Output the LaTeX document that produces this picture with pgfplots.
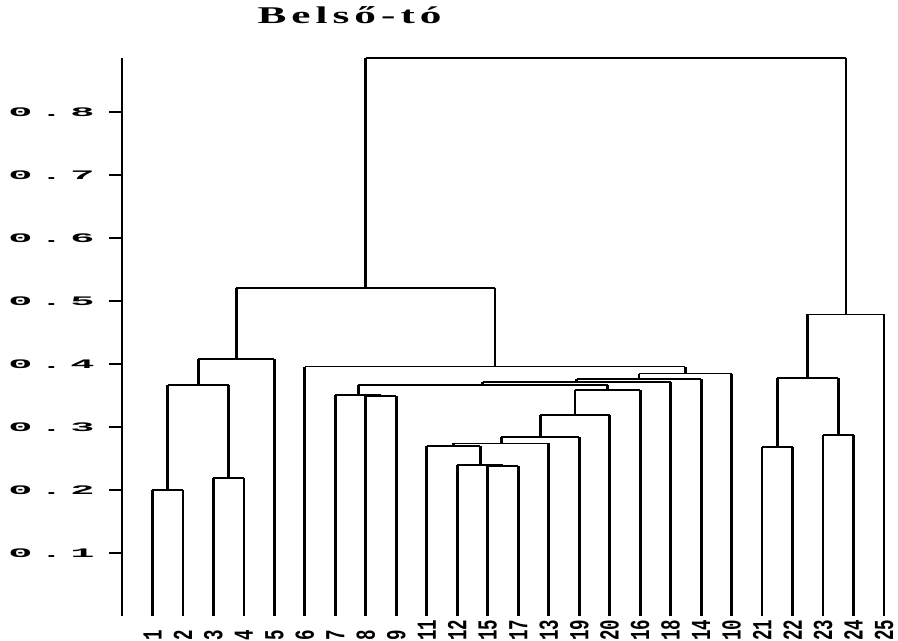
\documentclass[border=0pt]{standalone}
\usepackage{fontspec}
\setmainfont{Liberation Serif}
\setmonofont{Liberation Mono}
\usepackage{graphicx}
\usepackage{pgfplots}
\pgfplotsset{compat=1.18}

% the original is stretched about twice as wide as it is tall
\newcommand\ylab[1]{\scalebox{3.1}[1]{\fontsize{6.5}{6.5}\selectfont\bfseries\ttfamily 0\kern1.1pt.\kern1.1pt#1}}
\newcommand\leaf[1]{\scalebox{1}[1.57]{\fontsize{8.75}{8.75}\selectfont\bfseries\ttfamily #1}}
\newcommand\ks{\kern1.4pt}

% vertical segments of the dendrogram (nan rows break the line)
\pgfplotstableread{
x y
1 0
1 0.200
nan nan
2 0
2 0.200
nan nan
3 0
3 0.219
nan nan
4 0
4 0.219
nan nan
1.5 0.200
1.5 0.367
nan nan
3.5 0.219
3.5 0.367
nan nan
2.5 0.367
2.5 0.408
nan nan
5 0
5 0.408
nan nan
8 0
8 0.349
nan nan
9 0
9 0.349
nan nan
7 0
7 0.351
nan nan
8.5 0.349
8.5 0.351
nan nan
12 0
12 0.238
nan nan
13 0
13 0.238
nan nan
11 0
11 0.240
nan nan
12.5 0.238
12.5 0.240
nan nan
10 0
10 0.270
nan nan
11.75 0.240
11.75 0.270
nan nan
10.875 0.270
10.875 0.274
nan nan
14 0
14 0.274
nan nan
12.4375 0.274
12.4375 0.284
nan nan
15 0
15 0.284
nan nan
13.7188 0.284
13.7188 0.319
nan nan
16 0
16 0.319
nan nan
14.8594 0.319
14.8594 0.359
nan nan
17 0
17 0.359
nan nan
7.75 0.351
7.75 0.367
nan nan
15.9297 0.359
15.9297 0.367
nan nan
11.8398 0.367
11.8398 0.372
nan nan
18 0
18 0.372
nan nan
14.9199 0.372
14.9199 0.376
nan nan
19 0
19 0.376
nan nan
16.96 0.376
16.96 0.385
nan nan
20 0
20 0.385
nan nan
6 0
6 0.396
nan nan
18.48 0.385
18.48 0.396
nan nan
3.75 0.408
3.75 0.521
nan nan
12.24 0.396
12.24 0.521
nan nan
21 0
21 0.268
nan nan
22 0
22 0.268
nan nan
23 0
23 0.287
nan nan
24 0
24 0.287
nan nan
21.5 0.268
21.5 0.378
nan nan
23.5 0.287
23.5 0.378
nan nan
22.5 0.378
22.5 0.479
nan nan
25 0
25 0.479
nan nan
7.995 0.521
7.995 0.886
nan nan
23.75 0.479
23.75 0.886
}\vsegs

% horizontal segments at the merge heights
\pgfplotstableread{
x y
1 0.200
2 0.200
nan nan
3 0.219
4 0.219
nan nan
1.5 0.367
3.5 0.367
nan nan
2.5 0.408
5 0.408
nan nan
8 0.349
9 0.349
nan nan
7 0.351
8.5 0.351
nan nan
12 0.238
13 0.238
nan nan
11 0.240
12.5 0.240
nan nan
10 0.270
11.75 0.270
nan nan
10.875 0.274
14 0.274
nan nan
12.4375 0.284
15 0.284
nan nan
13.7188 0.319
16 0.319
nan nan
14.8594 0.359
17 0.359
nan nan
7.75 0.367
15.9297 0.367
nan nan
11.8398 0.372
18 0.372
nan nan
14.9199 0.376
19 0.376
nan nan
16.96 0.385
20 0.385
nan nan
6 0.396
18.48 0.396
nan nan
3.75 0.521
12.24 0.521
nan nan
21 0.268
22 0.268
nan nan
23 0.287
24 0.287
nan nan
21.5 0.378
23.5 0.378
nan nan
22.5 0.479
25 0.479
nan nan
7.995 0.886
23.75 0.886
}\hsegs

\begin{document}
\begin{tikzpicture}
\begin{axis}[
  scale only axis,
  width=381pt, height=279pt,
  at={(61pt,12.5pt)}, anchor=south west,
  xmin=0, xmax=25, ymin=0, ymax=0.886,
  clip=false,
  unbounded coords=jump,
  axis x line*=bottom, axis y line*=left,
  x axis line style={draw=none},
  y axis line style={line width=1.4pt, -},
  tick align=outside,
  major tick length=6.5pt,
  xtick={1,...,25},
  xticklabels={\leaf{1},\leaf{2},\leaf{3},\leaf{4},\leaf{5},\leaf{6},\leaf{7},\leaf{8},\leaf{9},\leaf{11},\leaf{12},\leaf{15},\leaf{17},\leaf{13},\leaf{19},\leaf{20},\leaf{16},\leaf{18},\leaf{14},\leaf{10},\leaf{21},\leaf{22},\leaf{23},\leaf{24},\leaf{25}},
  x tick style={draw=none},
  xticklabel style={yshift=-6pt, rotate=90, anchor=west, inner sep=0pt},
  ytick={0.1,0.2,0.3,0.4,0.5,0.6,0.7,0.8},
  yticklabels={\ylab1,\ylab2,\ylab3,\ylab4,\ylab5,\ylab6,\ylab7,\ylab8},
  y tick style={line width=0.8pt, black},
  yticklabel style={anchor=east, inner sep=0pt, xshift=-7pt},
  title={\scalebox{1.8}[1]{\fontsize{12}{12}\selectfont\bfseries B\ks e\ks l\ks s\ks ő\ks -\ks t\ks ó}},
  title style={at={(axis description cs:0.2986,1)}, anchor=base, yshift=11pt, inner sep=0pt},
]
\addplot[black, line width=1.4pt] table {\vsegs};
\addplot[black, line width=0.8pt] table {\hsegs};
\end{axis}
\pgfresetboundingbox
\useasboundingbox (0,0) rectangle (449pt,320.5pt);
\end{tikzpicture}
\end{document}
